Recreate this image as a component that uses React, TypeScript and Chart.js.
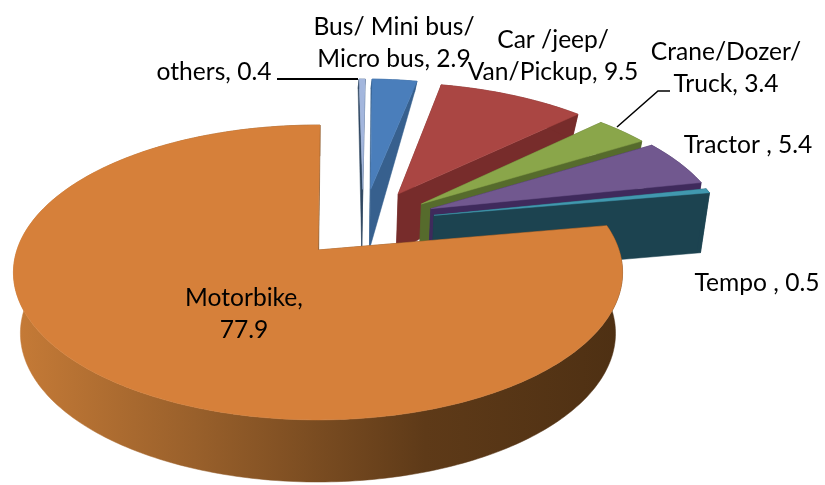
import React, { useEffect, useRef } from "react";
import { Chart, registerables } from "chart.js";

Chart.register(...registerables);

const categories = ["Motorbike", "others", "Bus/ Mini bus/ Micro bus", "Car /jeep/ Van/Pickup", "Crane/Dozer/ Truck", "Tractor", "Tempo"];
const shares = [77.9, 0.4, 2.9, 9.5, 3.4, 5.4, 0.5];
const labelHead = [["Motorbike,"], [], ["Bus/ Mini bus/"], ["Car /jeep/"], ["Crane/Dozer/"], [], []];
const labelTail = ["", "others, ", "Micro bus, ", "Van/Pickup, ", "Truck, ", "Tractor , ", "Tempo , "];

const topColors = ["#D6803A", "#A3B6DD", "#4A7EBB", "#AA4643", "#8AA64A", "#71588F", "#4198AF"];
const sideColors = ["#8A5526", "#2E4660", "#37608E", "#772C2B", "#566B2C", "#3F2A5C", "#1C4350"];

// Explosion of each slice on the pie plane, in pie radii.
const explodeX = [0, 0.159, 0.187, 0.283, 0.361, 0.392, 0.4];
const explodeY = [0, -0.45, -0.45, -0.413, -0.336, -0.3, -0.25];

// Where each label's text block sits: centre x, first-line middle y.
const labelX = [244, 214, 394, 553, 726, 748, 757];
const labelY = [298, 72, 27, 40, 52, 145, 283];
const LINE = 32;

const CX = 318, CY = 250, R = 301, K = 144, P = 0.1525;
const project = (x: number, y: number, bottom: boolean): [number, number] => {
  const w = 1 - P * y;
  const sx = CX + (R * x) / w;
  const sy = CY + (K * y) / w;
  if (!bottom) return [sx, sy];
  const depth = sy < 187 ? 11 + (sy - 82) * 0.467 : 60 + (sy - 187) * 0.009;
  return [316 + (sx - 316) * 0.977, sy + depth];
};

const fillPoly = (ctx: CanvasRenderingContext2D, pts: [number, number][], fill: any) => {
  ctx.beginPath();
  pts.forEach((p, i) => (i ? ctx.lineTo(p[0], p[1]) : ctx.moveTo(p[0], p[1])));
  ctx.closePath();
  ctx.fillStyle = fill;
  ctx.fill();
  ctx.strokeStyle = fill;
  ctx.lineWidth = 0.5;
  ctx.stroke();
};

const tiltedPie = {
  id: "tiltedPie",
  beforeDatasetsDraw(chart: any) {
    const ctx: CanvasRenderingContext2D = chart.ctx;
    const arcs = chart.getDatasetMeta(0).data;
    const order = [1, 2, 3, 4, 5, 6, 0];
    for (const i of order) {
      const { startAngle, endAngle } = arcs[i].getProps(["startAngle", "endAngle"], true);
      const ox = explodeX[i], oy = explodeY[i];
      const n = Math.max(2, Math.ceil(((endAngle - startAngle) * 180) / Math.PI));
      const rim: [number, number][] = [];
      for (let k = 0; k <= n; k++) {
        const a = startAngle + ((endAngle - startAngle) * k) / n;
        rim.push([ox + Math.cos(a), oy + Math.sin(a)]);
      }
      const topRim = rim.map((p) => project(p[0], p[1], false));
      const botRim = rim.map((p) => project(p[0], p[1], true));
      const apexT = project(ox, oy, false);
      const apexB = project(ox, oy, true);
      let side: any = sideColors[i];
      if (i === 0) {
        const g = ctx.createLinearGradient(12, 0, 620, 0);
        g.addColorStop(0, "#C67B37");
        g.addColorStop(0.3, "#99602B");
        g.addColorStop(0.68, "#5E3A18");
        g.addColorStop(1, "#4E3013");
        side = g;
      }
      fillPoly(ctx, [apexT, topRim[0], botRim[0], apexB], side);
      fillPoly(ctx, [apexT, topRim[n], botRim[n], apexB], side);
      fillPoly(ctx, [...topRim, ...botRim.slice().reverse()], side);
      fillPoly(ctx, [apexT, ...topRim], topColors[i]);
    }
    return false;
  },
  afterDraw(chart: any) {
    const ctx: CanvasRenderingContext2D = chart.ctx;
    ctx.save();
    ctx.strokeStyle = "#000";
    ctx.lineWidth = 2;
    ctx.beginPath();
    ctx.moveTo(277, 79);
    ctx.lineTo(358, 79);
    ctx.stroke();
    ctx.lineWidth = 1.5;
    ctx.beginPath();
    ctx.moveTo(617, 127);
    ctx.lineTo(658, 91);
    ctx.lineTo(670, 91);
    ctx.stroke();
    ctx.fillStyle = "#000";
    ctx.font = '24.6px Lato, "Open Sans", sans-serif';
    ctx.textAlign = "center";
    ctx.textBaseline = "middle";
    shares.forEach((v, i) => {
      const lines = [...labelHead[i], labelTail[i] + v.toFixed(1)];
      lines.forEach((t, k) => ctx.fillText(t, labelX[i], labelY[i] + k * LINE));
    });
    ctx.restore();
  },
};

export default function App() {
  const ref = useRef<HTMLCanvasElement>(null);
  useEffect(() => {
    const chart = new Chart(ref.current!, {
      type: "pie",
      data: {
        labels: categories,
        datasets: [{ data: shares, backgroundColor: topColors, borderWidth: 0 }],
      },
      options: {
        responsive: false,
        animation: false,
        rotation: 80,
        plugins: { legend: { display: false }, tooltip: { enabled: false } },
      },
      plugins: [tiltedPie],
    } as any);
    return () => chart.destroy();
  }, []);
  return (
    <div style={{ position: "absolute", left: 0, top: 0, background: "#fff" }}>
      <canvas ref={ref} width={825} height={485} style={{ display: "block" }} />
    </div>
  );
}
